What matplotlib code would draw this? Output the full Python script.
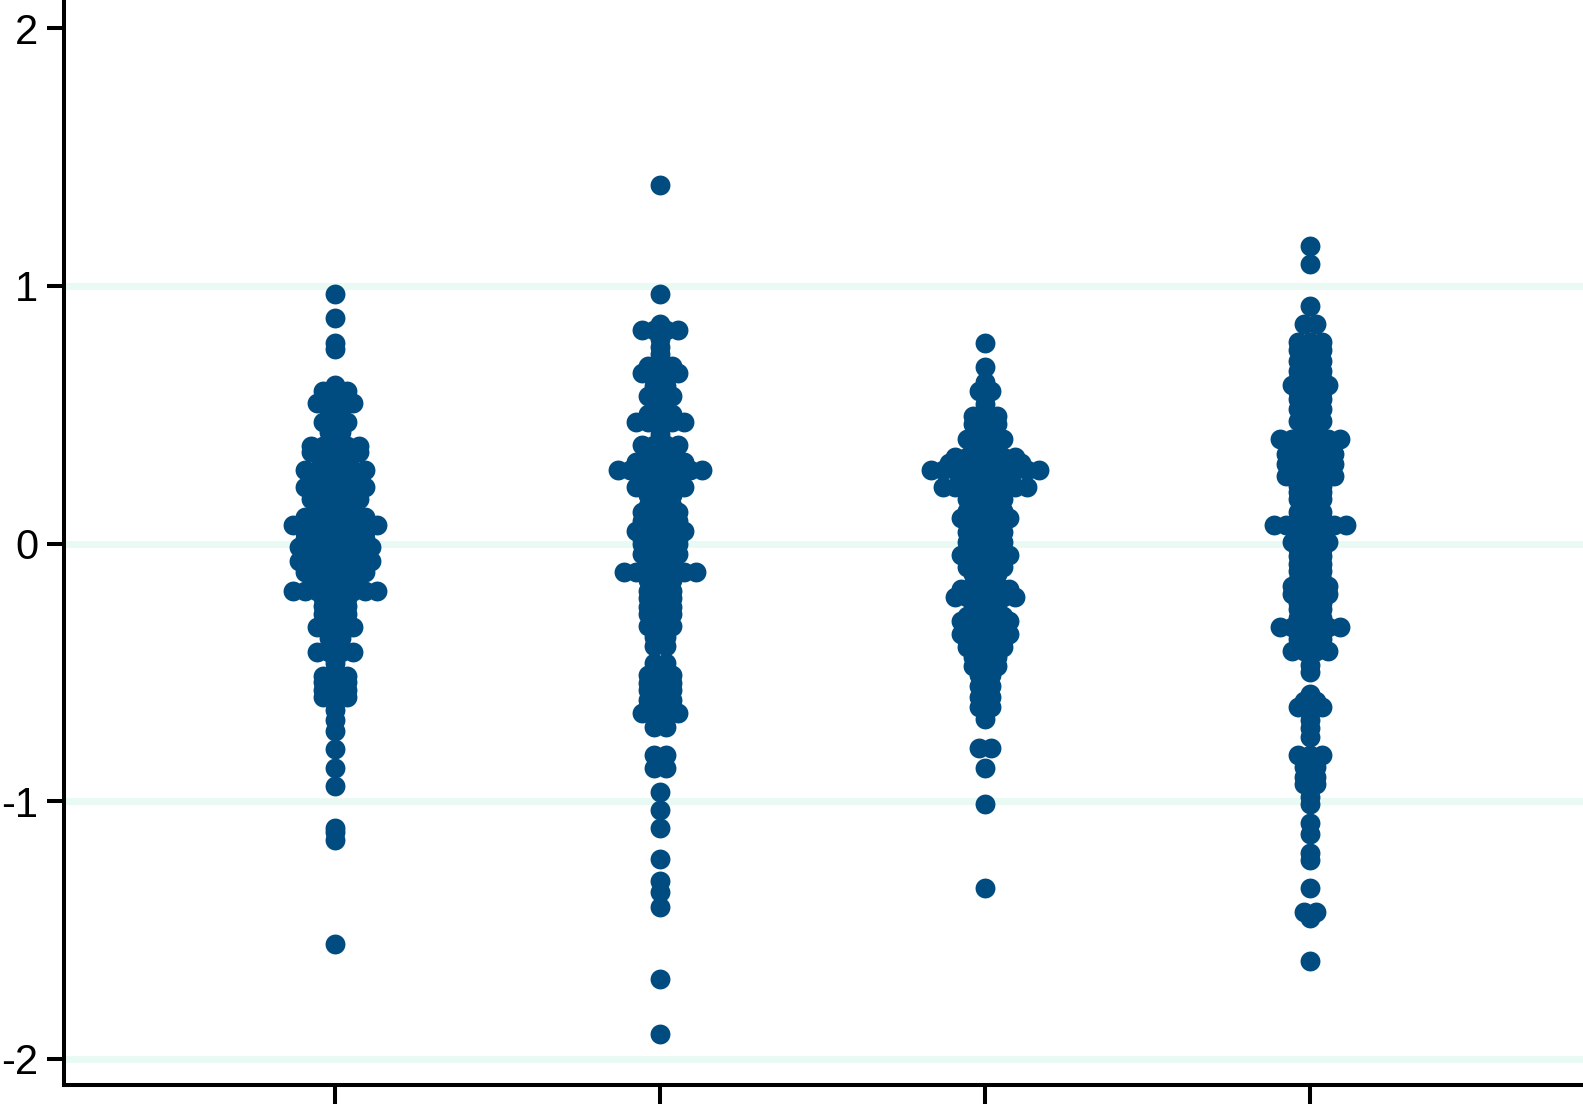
import numpy as np
import matplotlib
matplotlib.use("Agg")
import matplotlib.pyplot as plt

plt.rcParams['font.family'] = ['Liberation Sans', 'DejaVu Sans']

categories = [1, 2, 3, 4]
y_ticks = [-2, -1, 0, 1, 2]
y_labels = ['-2', '-1', '0', '1', '2']

g1_values = [0.969,0.876,0.778,0.755,0.615,0.592,0.568,0.545,0.495,0.471,0.432,0.378,0.355,0.32,0.285,0.25,0.219,0.172,0.133,0.102,0.071,0.044,0.016,-0.015,-0.042,-0.069,-0.112,-0.147,-0.186,-0.244,-0.274,-0.325,-0.365,-0.423,-0.462,-0.516,-0.539,-0.567,-0.594,-0.645,-0.684,-0.726,-0.796,-0.87,-0.94,-1.103,-1.12,-1.15,-1.554,
             0.2,0.15,0.0,-0.21,-0.3,-0.39,-0.44]
g1_counts = [1,1,1,1,1,3,2,4,2,3,2,5,5,3,6,4,6,5,4,6,8,6,6,7,6,7,6,4,8,3,3,4,2,4,1,3,3,3,3,1,1,1,1,1,1,1,1,1,1,
             5,4,5,3,2,1,1]

g2_values = [1.393,0.969,0.852,0.829,0.794,0.763,0.736,0.689,0.662,0.612,0.572,0.502,0.471,0.425,0.382,0.316,0.285,0.219,0.172,0.121,0.086,0.047,0.016,-0.042,-0.112,-0.186,-0.248,-0.274,-0.322,-0.361,-0.396,-0.462,-0.509,-0.54,-0.606,-0.656,-0.711,-0.82,-0.87,-0.963,-1.033,-1.103,-1.224,-1.31,-1.352,-1.41,-1.69,-1.904,
             0.30,0.26,0.19,0.145,0.07,0.0,-0.08,-0.14,-0.21,0.45,0.53,0.36,-0.57,-0.63,-0.485]
g2_counts = [1,1,1,4,1,1,1,3,4,2,3,3,5,1,4,5,8,5,2,4,4,5,4,4,7,3,3,3,3,2,2,2,3,3,3,4,2,2,2,1,1,1,1,1,1,1,1,1,
             4,3,3,3,4,4,3,3,3,1,2,2,3,3,2]

g3_values = [0.778,0.685,0.627,0.592,0.542,0.495,0.463,0.405,0.335,0.312,0.285,0.219,0.172,0.125,0.098,0.044,0.005,-0.046,-0.092,-0.139,-0.178,-0.209,-0.256,-0.302,-0.353,-0.4,-0.442,-0.477,-0.509,-0.555,-0.594,-0.633,-0.68,-0.792,-0.87,-1.01,-1.337,
             0.25,0.15,0.07,0.02,-0.02,-0.07,-0.12,-0.16,-0.23,-0.28,-0.33,-0.38,0.37]
g3_counts = [1,1,1,2,1,3,3,4,6,7,10,8,4,4,5,4,4,5,4,2,5,6,3,5,5,4,3,3,2,2,2,2,1,2,1,1,1,
             5,3,3,3,3,3,3,3,3,4,4,4,3]

g4_values = [1.155,1.084,0.922,0.852,0.782,0.708,0.67,0.615,0.56,0.522,0.475,0.405,0.347,0.308,0.261,0.222,0.172,0.121,0.071,0.005,-0.05,-0.108,-0.166,-0.197,-0.256,-0.325,-0.372,-0.419,-0.47,-0.497,-0.586,-0.613,-0.633,-0.684,-0.715,-0.75,-0.82,-0.866,-0.905,-0.932,-0.983,-1.013,-1.084,-1.127,-1.2,-1.228,-1.337,-1.43,-1.453,-1.62,
             0.37,0.04,0.10,-0.02,-0.08,-0.14,-0.23,-0.29,-0.36,0.44,0.29,0.2,0.15,0.75,0.64,0.59,0.54,0.50]
g4_counts = [1,1,1,2,3,3,3,4,3,3,3,6,5,5,5,3,3,3,7,4,3,3,4,4,3,6,3,4,1,1,1,2,3,1,1,1,3,2,2,2,1,1,1,1,1,1,1,2,1,1,
             4,3,3,3,3,3,3,3,2,2,4,3,2,3,3,3,2,2]

all_values = [g1_values, g2_values, g3_values, g4_values]
all_counts = [g1_counts, g2_counts, g3_counts, g4_counts]

W, H = 1583, 1104
fig = plt.figure(figsize=(W / 100, H / 100), dpi=100, facecolor='white')
ax = fig.add_axes([64 / W, 19 / H, (W - 64) / W, (H - 19) / H])
ax.set_xlim(0.166, 4.84)
ax.set_ylim(-2.102, 2.110)

dot_step = 0.0369
for cat, values, counts in zip(categories, all_values, all_counts):
    xs, ys = [], []
    for v, n in zip(values, counts):
        xs.extend(cat + (np.arange(n) - (n - 1) / 2) * dot_step)
        ys.extend([v] * n)
    ax.scatter(xs, ys, s=205, color='#004B80', linewidths=0, zorder=3, clip_on=False)

for t in y_ticks[:-1]:
    ax.axhline(t, xmin=0.002, color='#E8FAF3', lw=5.0, zorder=1)

for s in ('top', 'right'):
    ax.spines[s].set_visible(False)
for s in ('left', 'bottom'):
    ax.spines[s].set_linewidth(2.9)
    ax.spines[s].set_color('black')

ax.set_xticks(categories)
ax.set_xticklabels([])
ax.set_yticks(y_ticks)
ax.set_yticklabels(y_labels)
ax.tick_params(axis='y', length=12.5, width=2.9, labelsize=30, pad=6, color='black')
ax.tick_params(axis='x', length=16, width=2.9, color='black')

fig.savefig('out.png', dpi=100)
